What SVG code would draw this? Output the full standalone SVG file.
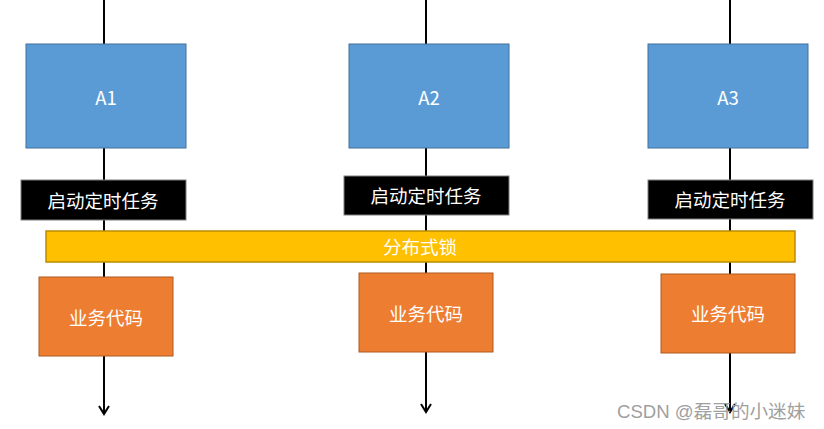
<svg xmlns="http://www.w3.org/2000/svg" width="824" height="429" viewBox="0 0 824 429">
<style>
.ln{stroke:#000;stroke-width:2;fill:none}
.a{fill:#5B9BD5;stroke:#41719C;stroke-width:1}
.t{fill:#000;stroke:#7f7f7f;stroke-width:1}
.o{fill:#ED7D31;stroke:#AE5A21;stroke-width:1}
.y{fill:#FFC000;stroke:#BC8C00;stroke-width:1.5}
text{font-family:"Noto Sans CJK SC",sans-serif;fill:#fff;font-size:18.5px;text-anchor:middle;dominant-baseline:central}
.w{fill:#a0a0a0;font-size:18.6px;text-anchor:start;font-family:"Liberation Sans","Noto Sans CJK SC",sans-serif}
</style>
<defs>
<marker id="arr" markerWidth="12" markerHeight="12" refX="10" refY="6" orient="auto" markerUnits="userSpaceOnUse" viewBox="0 0 12 12">
<path d="M2,1 L10,6 L2,11" fill="none" stroke="#000" stroke-width="2"/>
</marker>
</defs>
<g id="connectors">
<line class="ln" x1="104" y1="0" x2="104" y2="414" marker-end="url(#arr)"/>
<line class="ln" x1="426" y1="0" x2="426" y2="412" marker-end="url(#arr)"/>
<line class="ln" x1="730" y1="0" x2="730" y2="412" marker-end="url(#arr)"/>
</g>
<g id="A1"><rect class="a" x="26" y="44" width="160" height="104"/><text x="106" y="97">A1</text></g>
<g id="A2"><rect class="a" x="349" y="44" width="160" height="104"/><text x="429" y="97">A2</text></g>
<g id="A3"><rect class="a" x="648" y="44" width="160" height="104"/><text x="728" y="97">A3</text></g>
<g id="task1"><rect class="t" x="21" y="180" width="165" height="40"/><text x="103" y="200">启动定时任务</text></g>
<g id="task2"><rect class="t" x="344" y="176" width="165" height="39"/><text x="426" y="195">启动定时任务</text></g>
<g id="task3"><rect class="t" x="648" y="180" width="165" height="39"/><text x="730" y="199">启动定时任务</text></g>
<g id="lock"><rect class="y" x="46" y="231" width="749" height="31"/><text x="420" y="246">分布式锁</text></g>
<g id="code1"><rect class="o" x="39" y="277" width="134" height="79"/><text x="106" y="317">业务代码</text></g>
<g id="code2"><rect class="o" x="359" y="273" width="134" height="79"/><text x="426" y="313">业务代码</text></g>
<g id="code3"><rect class="o" x="661" y="274" width="134" height="79"/><text x="728" y="313">业务代码</text></g>
<text class="w" x="617" y="411">CSDN @磊哥的小迷妹</text>
</svg>
